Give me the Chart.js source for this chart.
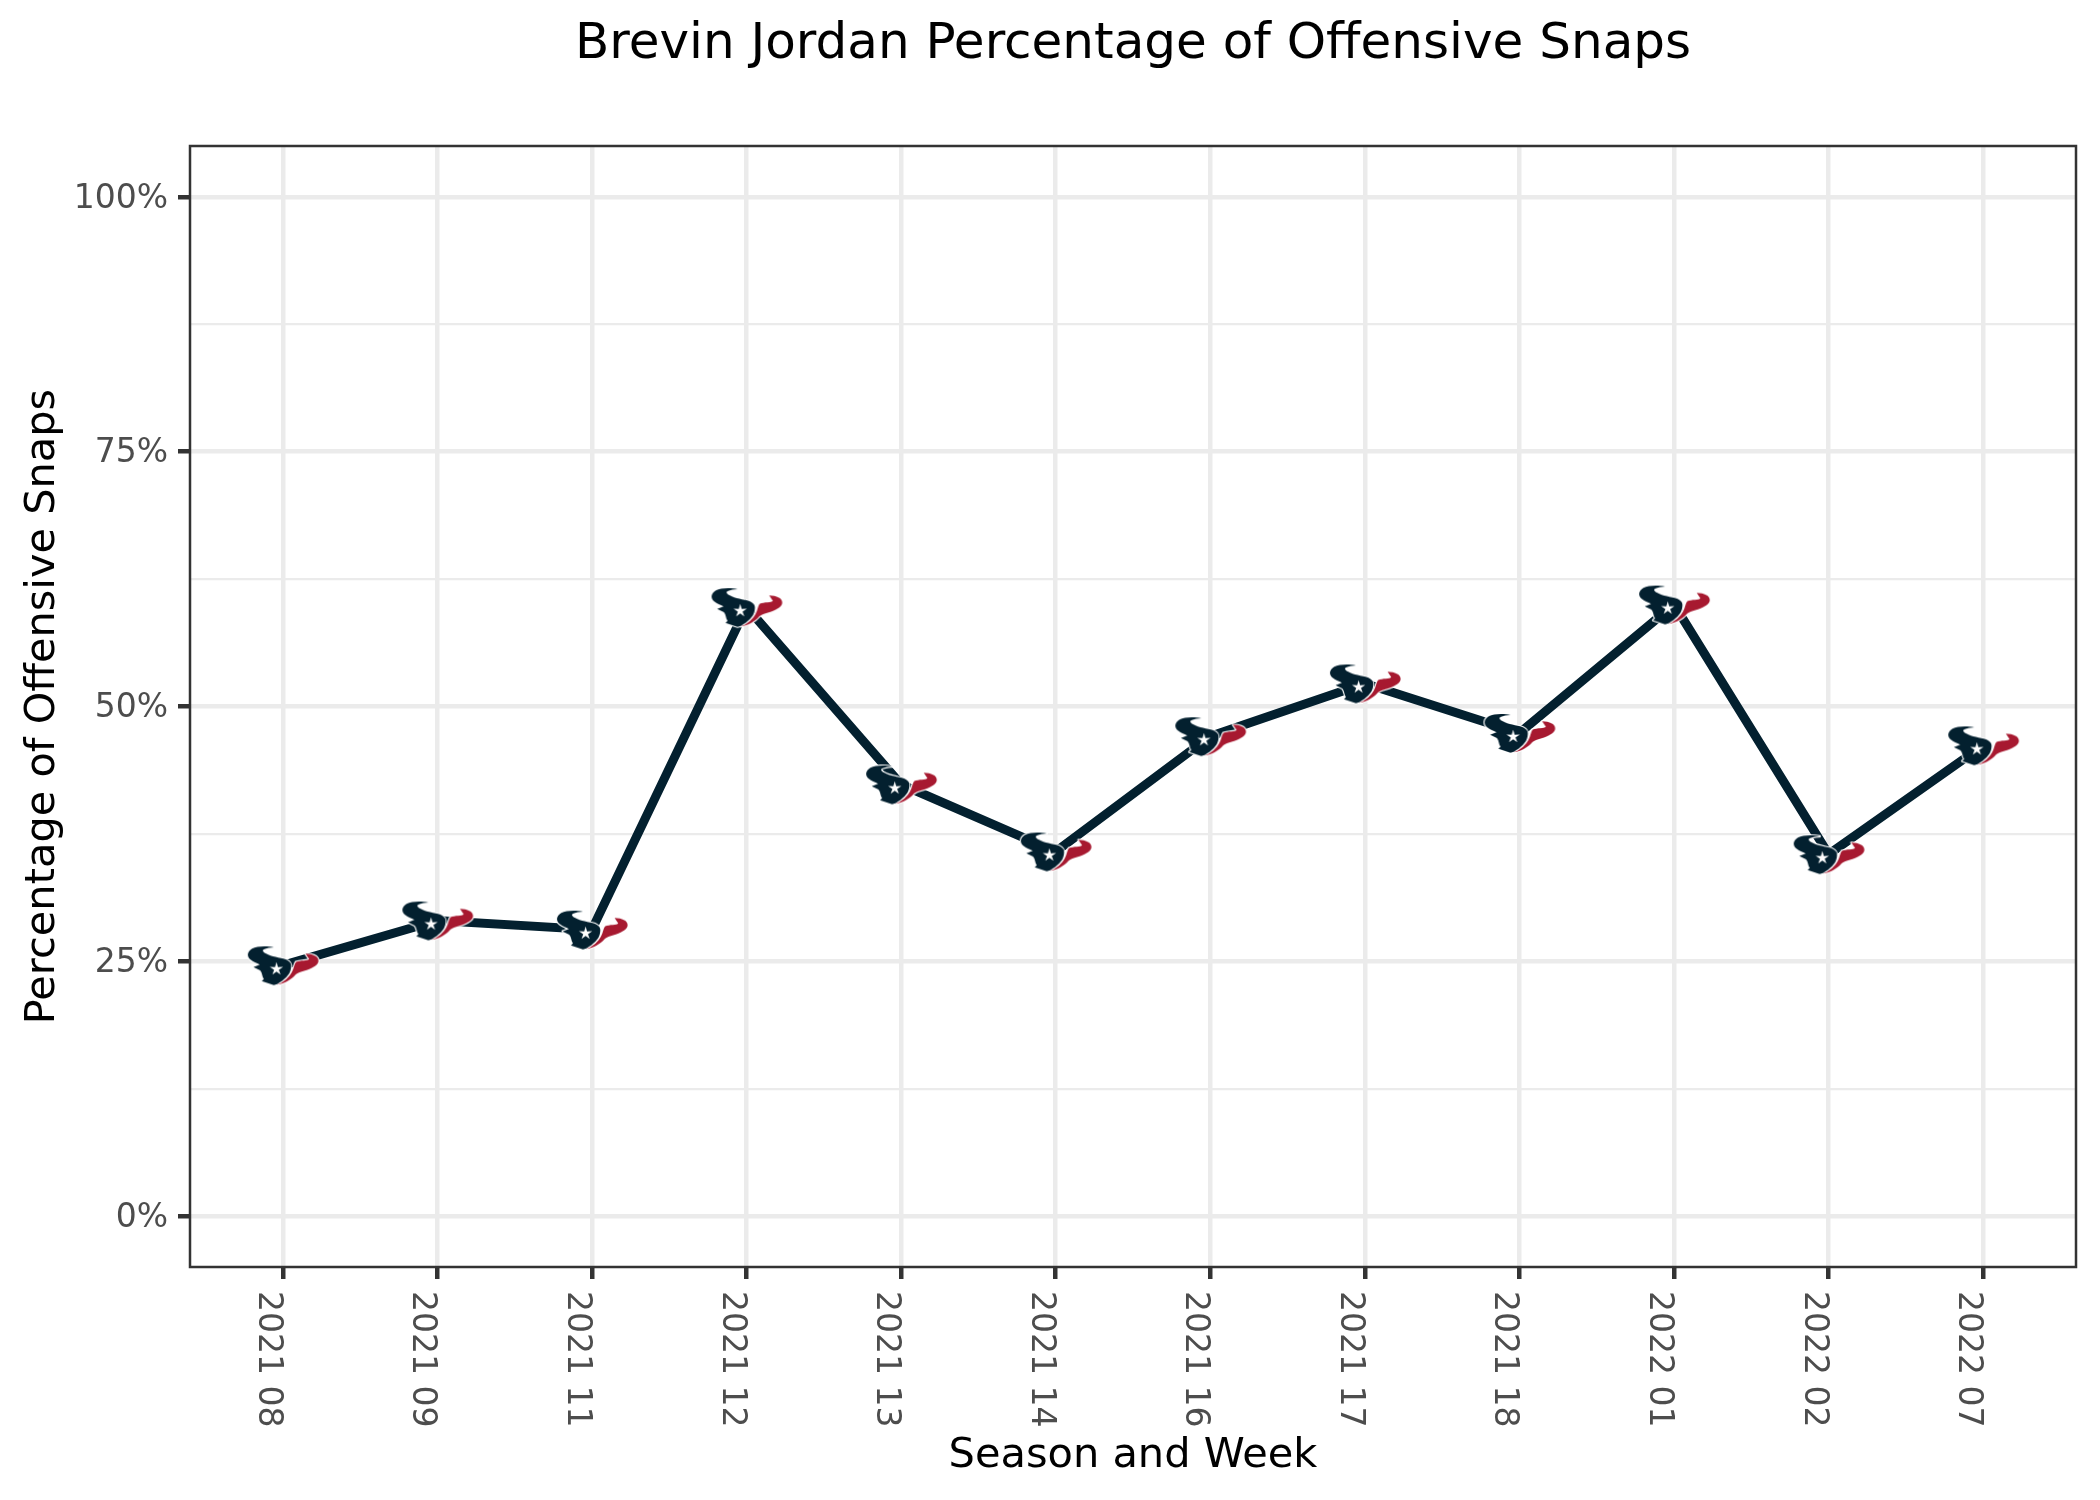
<!DOCTYPE html>
<html>
<head>
<meta charset="utf-8">
<title>Brevin Jordan Percentage of Offensive Snaps</title>
<script src="https://cdn.jsdelivr.net/npm/chart.js@4"></script>
<style>
  html, body { margin: 0; padding: 0; background: #fff; }
</style>
</head>
<body>
<canvas id="mychart" width="2100" height="1500"></canvas>
<script>
const categories = ['2021 08', '2021 09', '2021 11', '2021 12', '2021 13', '2021 14',
                    '2021 16', '2021 17', '2021 18', '2022 01', '2022 02', '2022 07'];
const snapPct = [24.6, 29.0, 28.1, 59.75, 42.35, 35.77, 47.08, 52.26, 47.4, 60.0, 35.5, 46.18];
const yMajorTicks = [0, 25, 50, 75, 100];
const yMinorTicks = [12.5, 37.5, 62.5, 87.5];

const FONT = '"DejaVu Sans"';
const NAVY = '#03202f';
const RED = '#a71930';

// team logo, traced by eye, used as the point image
function makeLogo() {
    const c = document.createElement('canvas');
    c.width = 100;
    c.height = 60;
    const g = c.getContext('2d');
    g.translate(50, 30);
    g.scale(1 / 3, 1 / 3);
    g.translate(-187, -257);
    g.lineJoin = 'round';

    const navy = new Path2D('M160,203 C140,199 110,199 95,207 C80,216 78,230 90,240 C98,247 108,250 118,255 L99,262 L119,272 C126,280 124,290 130,298 L124,304 L160,316 L170,313 C192,300 208,285 211,268 C214,255 212,246 196,239 C178,234 152,231 137,222 C128,217 124,213 130,209 C138,205 150,204 160,203 Z');
    const red = new Path2D('M170,315 C192,311 212,300 226,284 C238,274 262,274 282,260 C296,252 298,240 287,230 C277,224 264,222 255,222 L266,238 C262,243 240,241 226,247 C220,256 220,270 210,284 C200,298 185,310 170,315 Z');

    g.strokeStyle = '#fff';
    g.lineWidth = 7;
    g.stroke(navy);
    g.stroke(red);
    g.fillStyle = NAVY;
    g.fill(navy);
    g.fillStyle = RED;
    g.fill(red);

    // star
    g.fillStyle = '#fff';
    g.beginPath();
    for (let i = 0; i < 10; i++) {
        const r = i % 2 ? 7.5 : 21;
        const a = -Math.PI / 2 + i * Math.PI / 5;
        const px = 168 + r * Math.cos(a);
        const py = 268 + r * Math.sin(a);
        if (i === 0) g.moveTo(px, py); else g.lineTo(px, py);
    }
    g.closePath();
    g.fill();
    return c;
}

// panel border goes round all four sides, on top of the grid
const panelBorder = {
    id: 'panelBorder',
    afterDraw(chart) {
        const { ctx, chartArea: a } = chart;
        ctx.save();
        ctx.strokeStyle = '#333333';
        ctx.lineWidth = 2.5;
        ctx.strokeRect(a.left, a.top, a.right - a.left, a.bottom - a.top);
        ctx.restore();
    }
};

// chart.js anchors a -90 rotation at the wrong end, so the x labels go here
const xLabels = {
    id: 'xLabels',
    afterDraw(chart) {
        const { ctx, scales, chartArea } = chart;
        ctx.save();
        ctx.fillStyle = '#4d4d4d';
        ctx.font = '33px ' + FONT;
        ctx.textAlign = 'left';
        ctx.textBaseline = 'alphabetic';
        categories.forEach((label, i) => {
            ctx.save();
            ctx.translate(scales.x.getPixelForValue(i) - 24, chartArea.bottom + 24);
            ctx.rotate(Math.PI / 2);
            ctx.fillText(label, 0, 0);
            ctx.restore();
        });
        ctx.restore();
    }
};

new Chart(document.querySelector('#mychart'), {
    type: 'line',
    data: {
        datasets: [{
            label: 'Percentage of Offensive Snaps',
            data: snapPct.map((v, i) => ({ x: i, y: v })),
            borderColor: NAVY,
            borderWidth: 9,
            tension: 0,
            pointStyle: makeLogo(),
            pointRadius: 20,
            clip: false
        }]
    },
    plugins: [panelBorder, xLabels],
    options: {
        responsive: false,
        animation: false,
        layout: { autoPadding: false, padding: { left: 0, right: 24, top: 0, bottom: 0 } },
        plugins: {
            legend: { display: false },
            tooltip: { enabled: false },
            title: {
                display: true,
                text: 'Brevin Jordan Percentage of Offensive Snaps',
                fullSize: false,
                color: '#000',
                font: { family: FONT, size: 50, weight: 'normal' },
                padding: { top: 15, bottom: 71 }
            }
        },
        scales: {
            x: {
                type: 'linear',
                min: -0.6,
                max: 11.6,
                afterBuildTicks: scale => { scale.ticks = categories.map((c, i) => ({ value: i })); },
                afterFit: scale => { scale.height = 233; },
                border: { display: false },
                grid: { color: '#ebebeb', lineWidth: 4.5, tickColor: '#333333', tickWidth: 4.5, tickLength: 12 },
                ticks: { display: false, autoSkip: false },
                title: {
                    display: true,
                    text: 'Season and Week',
                    color: '#000',
                    font: { family: FONT, size: 41.5, weight: 'normal' },
                    padding: { top: 0, bottom: 19 }
                }
            },
            y: {
                min: -5,
                max: 105,
                afterBuildTicks: scale => {
                    scale.ticks = [...yMajorTicks, ...yMinorTicks].sort((a, b) => a - b).map(v => ({ value: v }));
                },
                afterFit: scale => { scale.width = 190; },
                border: { display: false },
                grid: {
                    color: '#ebebeb',
                    lineWidth: c => yMajorTicks.includes(c.tick.value) ? 4.5 : 2.2,
                    tickColor: c => yMajorTicks.includes(c.tick.value) ? '#333333' : 'rgba(0,0,0,0)',
                    tickWidth: 4.5,
                    tickLength: 12
                },
                ticks: {
                    autoSkip: false,
                    color: '#4d4d4d',
                    font: { family: FONT, size: 33 },
                    padding: 10,
                    labelOffset: 2,
                    callback: v => yMajorTicks.includes(v) ? v + '%' : ''
                },
                title: {
                    display: true,
                    text: 'Percentage of Offensive Snaps',
                    color: '#000',
                    font: { family: FONT, size: 41.5, weight: 'normal' },
                    padding: { top: 18, bottom: 0 }
                }
            }
        }
    }
});
</script>
</body>
</html>
